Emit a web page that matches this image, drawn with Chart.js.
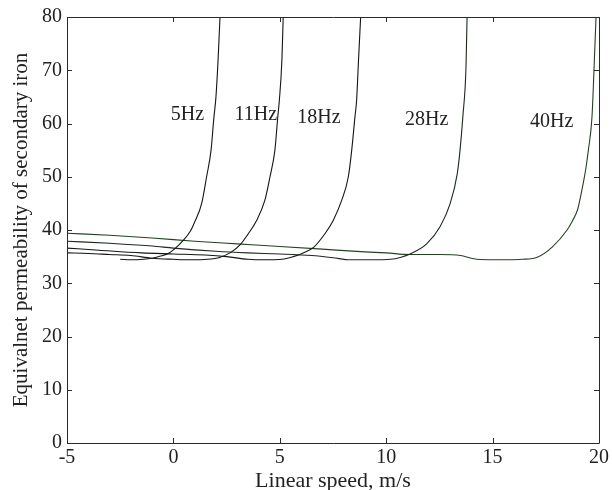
<!DOCTYPE html>
<html>
<head>
<meta charset="utf-8">
<script src="https://cdn.jsdelivr.net/npm/chart.js@4.4.1/dist/chart.umd.min.js"></script>
<style>
  html, body { margin: 0; padding: 0; background: #fff; }
  #wrap { width: 612px; height: 490px; }
</style>
</head>
<body>
<div id="wrap"><canvas id="mu" width="612" height="490"></canvas></div>
<script>
// frequency labels for each curve
const freqs = ["5Hz", "11Hz", "18Hz", "28Hz", "40Hz"];

// linear speed (m/s) and equivalent permeability, one pair per supply frequency
const speed5 = [-2.5, -2.0, -1.4, -1.0, -0.6, -0.2, 0.1, 0.45, 0.8, 1.0, 1.33, 1.56, 1.77, 1.9, 2.0, 2.1, 2.19];
const perm5  = [34.5, 34.4, 34.5, 34.7, 35.1, 35.7, 36.6, 38.0, 39.8, 41.5, 45.0, 50.0, 55.0, 61.0, 65.0, 72.0, 80.0];

const speed11 = [-5, -4, -3, -2, -1, 0, 0.8, 1.6, 2.2, 2.7, 3.13, 3.52, 3.91, 4.3, 4.54, 4.77, 4.9, 4.98, 5.1, 5.16];
const perm11  = [35.7, 35.6, 35.4, 35.2, 34.7, 34.5, 34.4, 34.5, 34.9, 35.8, 37.2, 39.3, 41.8, 45.6, 50.0, 55.0, 61.0, 64.4, 72.0, 80.0];

const speed18 = [-5, -3.5, -1.5, 0, 1.5, 2.5, 3.5, 4.3, 5.1, 5.63, 6.1, 6.6, 7.12, 7.51, 7.91, 8.22, 8.38, 8.53, 8.61, 8.7, 8.8];
const perm18  = [36.6, 36.2, 35.7, 35.5, 35.3, 35.0, 34.5, 34.4, 34.5, 35.0, 35.7, 36.8, 39.3, 41.8, 45.6, 50.0, 55.0, 61.2, 64.4, 72.0, 80.0];

const speed28 = [-5, -3, -1, 0, 2, 3.5, 5, 6.5, 7.5, 8.3, 9.3, 10.2, 10.7, 11.12, 11.9, 12.53, 13.0, 13.34, 13.47, 13.6, 13.75, 13.8];
const perm28  = [37.9, 37.5, 37.0, 36.6, 36.0, 35.7, 35.5, 35.2, 34.8, 34.4, 34.4, 34.5, 34.9, 35.5, 37.4, 40.6, 44.9, 50.6, 55.0, 61.2, 70.6, 80.0];

const speed40 = [-5, -3, -1, 1, 3, 5, 7, 9, 10, 11.1, 12.5, 13.5, 14.0, 14.4, 15.4, 16.4, 17.1, 17.8, 18.5, 18.75, 19.0, 19.12, 19.25, 19.38, 19.5, 19.67, 19.77, 19.86];
const perm40  = [39.4, 39.0, 38.5, 37.9, 37.4, 36.9, 36.4, 35.9, 35.7, 35.4, 35.4, 35.2, 34.7, 34.45, 34.4, 34.5, 34.9, 36.8, 40.0, 41.7, 43.9, 46.0, 48.6, 51.5, 55.0, 61.2, 70.6, 80.0];

// axis ticks
const xTicks = [-5, 0, 5, 10, 15, 20];
const yTicks = [0, 10, 20, 30, 40, 50, 60, 70, 80];

// where each frequency label sits (data units)
const labelAt = [[0.66, 61.7], [3.87, 61.7], [6.84, 61.0], [11.9, 60.75], [17.78, 60.3]];

const serif = '"Liberation Serif", "Times New Roman", serif';
const lineColors = ["#151515", "#151515", "#151515", "#1c2a1c", "#234223"];

const series = [[speed5, perm5], [speed11, perm11], [speed18, perm18], [speed28, perm28], [speed40, perm40]];

const datasets = series.map(([xs, ys], i) => ({
  label: freqs[i],
  data: xs.map((v, k) => ({ x: v, y: ys[k] })),
  borderColor: lineColors[i],
  borderWidth: 1.1,
  pointRadius: 0,
  fill: false,
  cubicInterpolationMode: "monotone"
}));

// box around the plot, inward ticks on all four sides, frequency labels
const frameTicks = {
  id: "frameTicks",
  afterDatasetsDraw(chart) {
    const { ctx, chartArea: a, scales: { x, y } } = chart;
    ctx.save();
    ctx.strokeStyle = "#2a2a2a";
    ctx.lineWidth = 1;
    ctx.beginPath();
    ctx.rect(Math.round(a.left) + 0.5, Math.round(a.top) + 0.5, Math.round(a.right - a.left), Math.round(a.bottom - a.top));
    xTicks.forEach(t => {
      const px = Math.round(x.getPixelForValue(t)) + 0.5;
      ctx.moveTo(px, a.bottom); ctx.lineTo(px, a.bottom - 5);
      ctx.moveTo(px, a.top); ctx.lineTo(px, a.top + 5);
    });
    yTicks.forEach(t => {
      const py = Math.round(y.getPixelForValue(t)) + 0.5;
      ctx.moveTo(a.left, py); ctx.lineTo(a.left + 5, py);
      ctx.moveTo(a.right, py); ctx.lineTo(a.right - 5, py);
    });
    ctx.stroke();

    ctx.fillStyle = "#222";
    ctx.font = "20px " + serif;
    ctx.textAlign = "center";
    ctx.textBaseline = "middle";
    labelAt.forEach(([lx, ly], i) => {
      ctx.fillText(freqs[i], x.getPixelForValue(lx), y.getPixelForValue(ly));
    });
    ctx.restore();
  }
};

new Chart(document.getElementById("mu"), {
  type: "line",
  data: { datasets },
  options: {
    responsive: false,
    animation: false,
    layout: { padding: { left: 0, top: 17, right: 13, bottom: 0 } },
    plugins: {
      legend: { display: false },
      tooltip: { enabled: false }
    },
    scales: {
      x: {
        type: "linear",
        min: -5,
        max: 20,
        afterBuildTicks: s => { s.ticks = xTicks.map(v => ({ value: v })); },
        afterFit: s => { s.height = 47; },
        grid: { display: false, drawTicks: false },
        border: { display: false },
        ticks: { color: "#222", padding: 3, font: { family: serif, size: 20 } },
        title: {
          display: true,
          text: "Linear speed, m/s",
          color: "#222",
          padding: { top: 0, bottom: -2 },
          font: { family: serif, size: 22, lineHeight: 1 }
        }
      },
      y: {
        type: "linear",
        min: 0,
        max: 80,
        afterBuildTicks: s => { s.ticks = yTicks.map(v => ({ value: v })); },
        afterFit: s => { s.width = 67; },
        grid: { display: false, drawTicks: false },
        border: { display: false },
        ticks: { color: "#222", padding: 5, font: { family: serif, size: 20 } },
        title: {
          display: true,
          text: "Equivalnet permeability of secondary iron",
          color: "#222",
          padding: { top: 11, bottom: 0 },
          font: { family: serif, size: 21, lineHeight: 1 }
        }
      }
    }
  },
  plugins: [frameTicks]
});
</script>
</body>
</html>
